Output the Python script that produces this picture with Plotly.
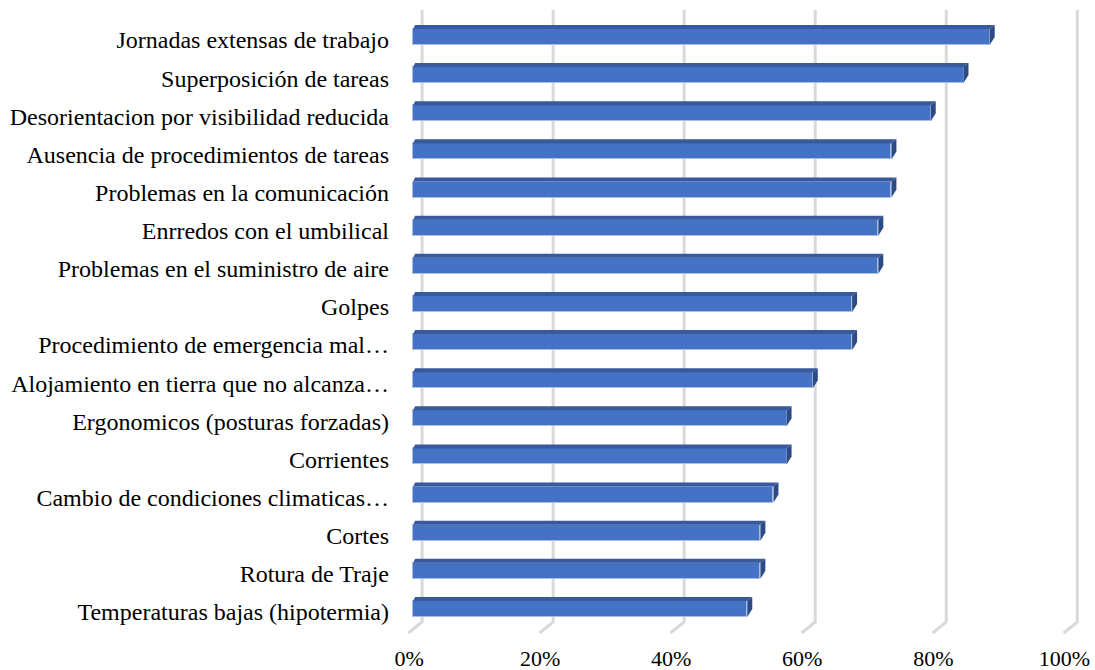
import plotly.graph_objects as go

categories = [
    "Jornadas extensas de trabajo",
    "Superposición de tareas",
    "Desorientacion por visibilidad reducida",
    "Ausencia de procedimientos de tareas",
    "Problemas en la comunicación",
    "Enrredos con el umbilical",
    "Problemas en el suministro de aire",
    "Golpes",
    "Procedimiento de emergencia mal…",
    "Alojamiento en tierra que no alcanza…",
    "Ergonomicos (posturas forzadas)",
    "Corrientes",
    "Cambio de condiciones climaticas…",
    "Cortes",
    "Rotura de Traje",
    "Temperaturas bajas (hipotermia)",
]
values = [88, 84, 79, 73, 73, 71, 71, 67, 67, 61, 57, 57, 55, 53, 53, 51]
tick_vals = [0, 20, 40, 60, 80, 100]
tick_text = ["0%", "20%", "40%", "60%", "80%", "100%"]

n = len(categories)
ypos = [n - 1 - i for i in range(n)]  # top category at top

FONT = "Liberation Serif, Times New Roman, serif"
FRONT = "#4472C4"
TOP = "#38599B"
SIDE = "#2C4B85"
GRID = "#D9D9D9"

# geometry (in axis units)
bw = 0.42          # bar thickness
ddx, ddy = 0.76, 0.105  # 3D depth offset of bars
gdx_back = 1.37    # back wall offset of gridlines
gdx_front = -0.72  # front floor offset
y_top, y_floor_back, y_floor_front = 15.71, -0.34, -0.63

fig = go.Figure()
fig.add_trace(go.Bar(
    y=ypos, x=values, orientation="h", width=bw,
    marker=dict(color=FRONT, line=dict(color="#A9BDE3", width=1)),
    hoverinfo="skip", showlegend=False,
))

shapes = []
for t in tick_vals:
    xb = t + gdx_back
    shapes.append(dict(
        type="path", layer="below", xref="x", yref="y",
        path=f"M {xb},{y_top} L {xb},{y_floor_back} L {t + gdx_front},{y_floor_front}",
        line=dict(color=GRID, width=3),
    ))

for y, v in zip(ypos, values):
    top = y + bw / 2
    bot = y - bw / 2
    shapes.append(dict(
        type="path", xref="x", yref="y", layer="above",
        path=f"M 0,{top} L {v},{top} L {v + ddx},{top + ddy} L {ddx * 0.4},{top + ddy} Z",
        fillcolor=TOP, line=dict(width=0),
    ))
    shapes.append(dict(
        type="path", xref="x", yref="y", layer="above",
        path=f"M {v},{bot} L {v},{top} L {v + ddx},{top + ddy} L {v + ddx},{bot + ddy * 2} Z",
        fillcolor=SIDE, line=dict(width=0),
    ))

fig.update_layout(
    width=1095, height=670,
    margin=dict(l=400, r=7, t=8, b=35, autoexpand=False),
    paper_bgcolor="white", plot_bgcolor="white",
    font=dict(family=FONT, size=24, color="#000000"),
    shapes=shapes,
    bargap=0,
    xaxis=dict(
        range=[-2, 103], tickvals=tick_vals, ticktext=tick_text,
        tickfont=dict(size=22),
        showgrid=False, zeroline=False, showline=False, ticks="",
        ticklabelshift=-4, ticklabelstandoff=8, automargin=False,
        fixedrange=True,
    ),
    yaxis=dict(
        range=[-0.682, 15.76], tickvals=ypos, ticktext=categories,
        showgrid=False, zeroline=False, showline=False, ticks="",
        ticklabelstandoff=10, ticklabelshift=3, automargin=False,
        fixedrange=True,
    ),
)

fig.write_html("out.html")
